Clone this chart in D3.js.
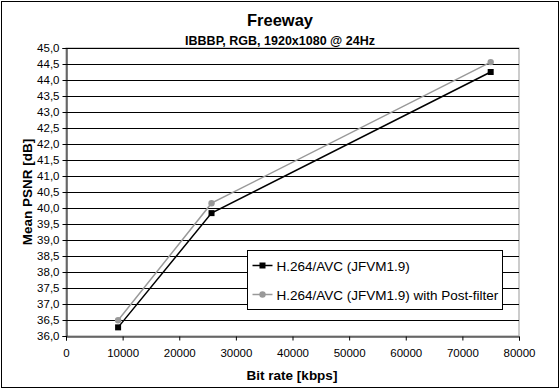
<!DOCTYPE html>
<html>
<head>
<meta charset="utf-8">
<script src="https://cdn.jsdelivr.net/npm/d3@7"></script>
<style>
  body { margin: 0; background: #fff; }
  text { font-family: "Liberation Sans", Arial, sans-serif; }
</style>
</head>
<body>
<svg id="chart" width="560" height="389"></svg>
<script>
// data
var bitRates = [9200, 25700, 75000];
var psnrJfvm = [36.27, 39.84, 44.25];
var psnrPostFilter = [36.49, 40.15, 44.56];
var seriesNames = ["H.264/AVC (JFVM1.9)", "H.264/AVC (JFVM1.9) with Post-filter"];
var xTicks = [0, 10000, 20000, 30000, 40000, 50000, 60000, 70000, 80000];
var yTicks = d3.range(36, 45.01, 0.5);

var svg = d3.select("#chart");
var margin = {left: 66, right: 41, top: 48, bottom: 53};
var W = 560, H = 389;

var x = d3.scaleLinear().domain([0, 80000]).range([margin.left, W - margin.right]);
var y = d3.scaleLinear().domain([36, 45]).range([H - margin.bottom, margin.top]);

// outer border
svg.append("rect")
  .attr("x", 1.5).attr("y", 1.5)
  .attr("width", W - 3).attr("height", H - 3)
  .attr("fill", "#fff").attr("stroke", "#000").attr("stroke-width", 1);

// plot area frame
svg.append("rect")
  .attr("x", x(0)).attr("y", y(45))
  .attr("width", x(80000) - x(0)).attr("height", y(36) - y(45))
  .attr("fill", "#fff").attr("stroke", "#999").attr("stroke-width", 1);

// gridlines
svg.append("g").selectAll("line")
  .data(yTicks.filter(function(d) { return d > 36; }))
  .join("line")
  .attr("x1", x(0)).attr("x2", x(80000))
  .attr("y1", function(d) { return Math.round(y(d)) + 0.5; })
  .attr("y2", function(d) { return Math.round(y(d)) + 0.5; })
  .attr("stroke", "#000").attr("stroke-width", 1);

// axes
var fmtComma = function(d) { return d.toFixed(1).replace(".", ","); };
var yAxis = d3.axisLeft(y).tickValues(yTicks).tickSize(4).tickPadding(3).tickFormat(fmtComma);
var xAxis = d3.axisBottom(x).tickValues(xTicks).tickSize(4).tickPadding(8).tickFormat(d3.format("d"));

var gy = svg.append("g").attr("transform", "translate(" + (Math.round(x(0)) + 0.5) + ",0)").call(yAxis);
var gx = svg.append("g").attr("transform", "translate(0," + (Math.round(y(36)) + 0.5) + ")").call(xAxis);
[gx, gy].forEach(function(g) {
  g.select(".domain").attr("stroke", "#000");
  g.selectAll(".tick line").attr("stroke", "#000");
  g.selectAll("text").attr("font-size", 11.5).attr("fill", "#000")
    .attr("font-family", "'Liberation Sans', Arial, sans-serif");
});

// titles
svg.append("text").attr("x", 280).attr("y", 26).attr("text-anchor", "middle")
  .attr("font-size", 16.5).attr("font-weight", "bold").text("Freeway");
svg.append("text").attr("x", 280).attr("y", 45).attr("text-anchor", "middle")
  .attr("font-size", 12.5).attr("font-weight", "bold").text("IBBBP, RGB, 1920x1080 @ 24Hz");
svg.append("text").attr("x", 292).attr("y", 380).attr("text-anchor", "middle")
  .attr("font-size", 13.5).attr("font-weight", "bold").text("Bit rate [kbps]");
svg.append("text").attr("transform", "translate(32," + ((y(36) + y(45)) / 2) + ") rotate(-90)")
  .attr("text-anchor", "middle")
  .attr("font-size", 13.5).attr("font-weight", "bold").text("Mean PSNR [dB]");

// series
var series = [
  {name: seriesNames[0], values: psnrJfvm, color: "#000", marker: "square"},
  {name: seriesNames[1], values: psnrPostFilter, color: "#999", marker: "circle"}
];

var line = d3.line()
  .x(function(d) { return x(d[0]); })
  .y(function(d) { return y(d[1]); });

function drawMarker(g, s, cx, cy) {
  if (s.marker == "square") {
    g.append("rect").attr("x", cx - 3).attr("y", cy - 3).attr("width", 6).attr("height", 6).attr("fill", s.color);
  } else {
    g.append("circle").attr("cx", cx).attr("cy", cy).attr("r", 3.2).attr("fill", s.color);
  }
}

// post-filter drawn first, black on top
series.slice().reverse().forEach(function(s) {
  var pts = d3.zip(bitRates, s.values);
  var g = svg.append("g");
  g.append("path").attr("d", line(pts)).attr("fill", "none")
    .attr("stroke", s.color).attr("stroke-width", 1.5);
  pts.forEach(function(p) { drawMarker(g, s, x(p[0]), y(p[1])); });
});

// legend
var lg = svg.append("g").attr("transform", "translate(247.5,250.5)");
lg.append("rect").attr("width", 255).attr("height", 59)
  .attr("fill", "#fff").attr("stroke", "#000").attr("stroke-width", 1);
series.forEach(function(s, i) {
  var ly = 15 + i * 29;
  lg.append("line").attr("x1", 5).attr("x2", 25).attr("y1", ly).attr("y2", ly)
    .attr("stroke", s.color).attr("stroke-width", 1.5);
  drawMarker(lg, s, 15, ly);
  lg.append("text").attr("x", 29).attr("y", ly + 5).attr("font-size", 13.5).text(s.name);
});
</script>
</body>
</html>
